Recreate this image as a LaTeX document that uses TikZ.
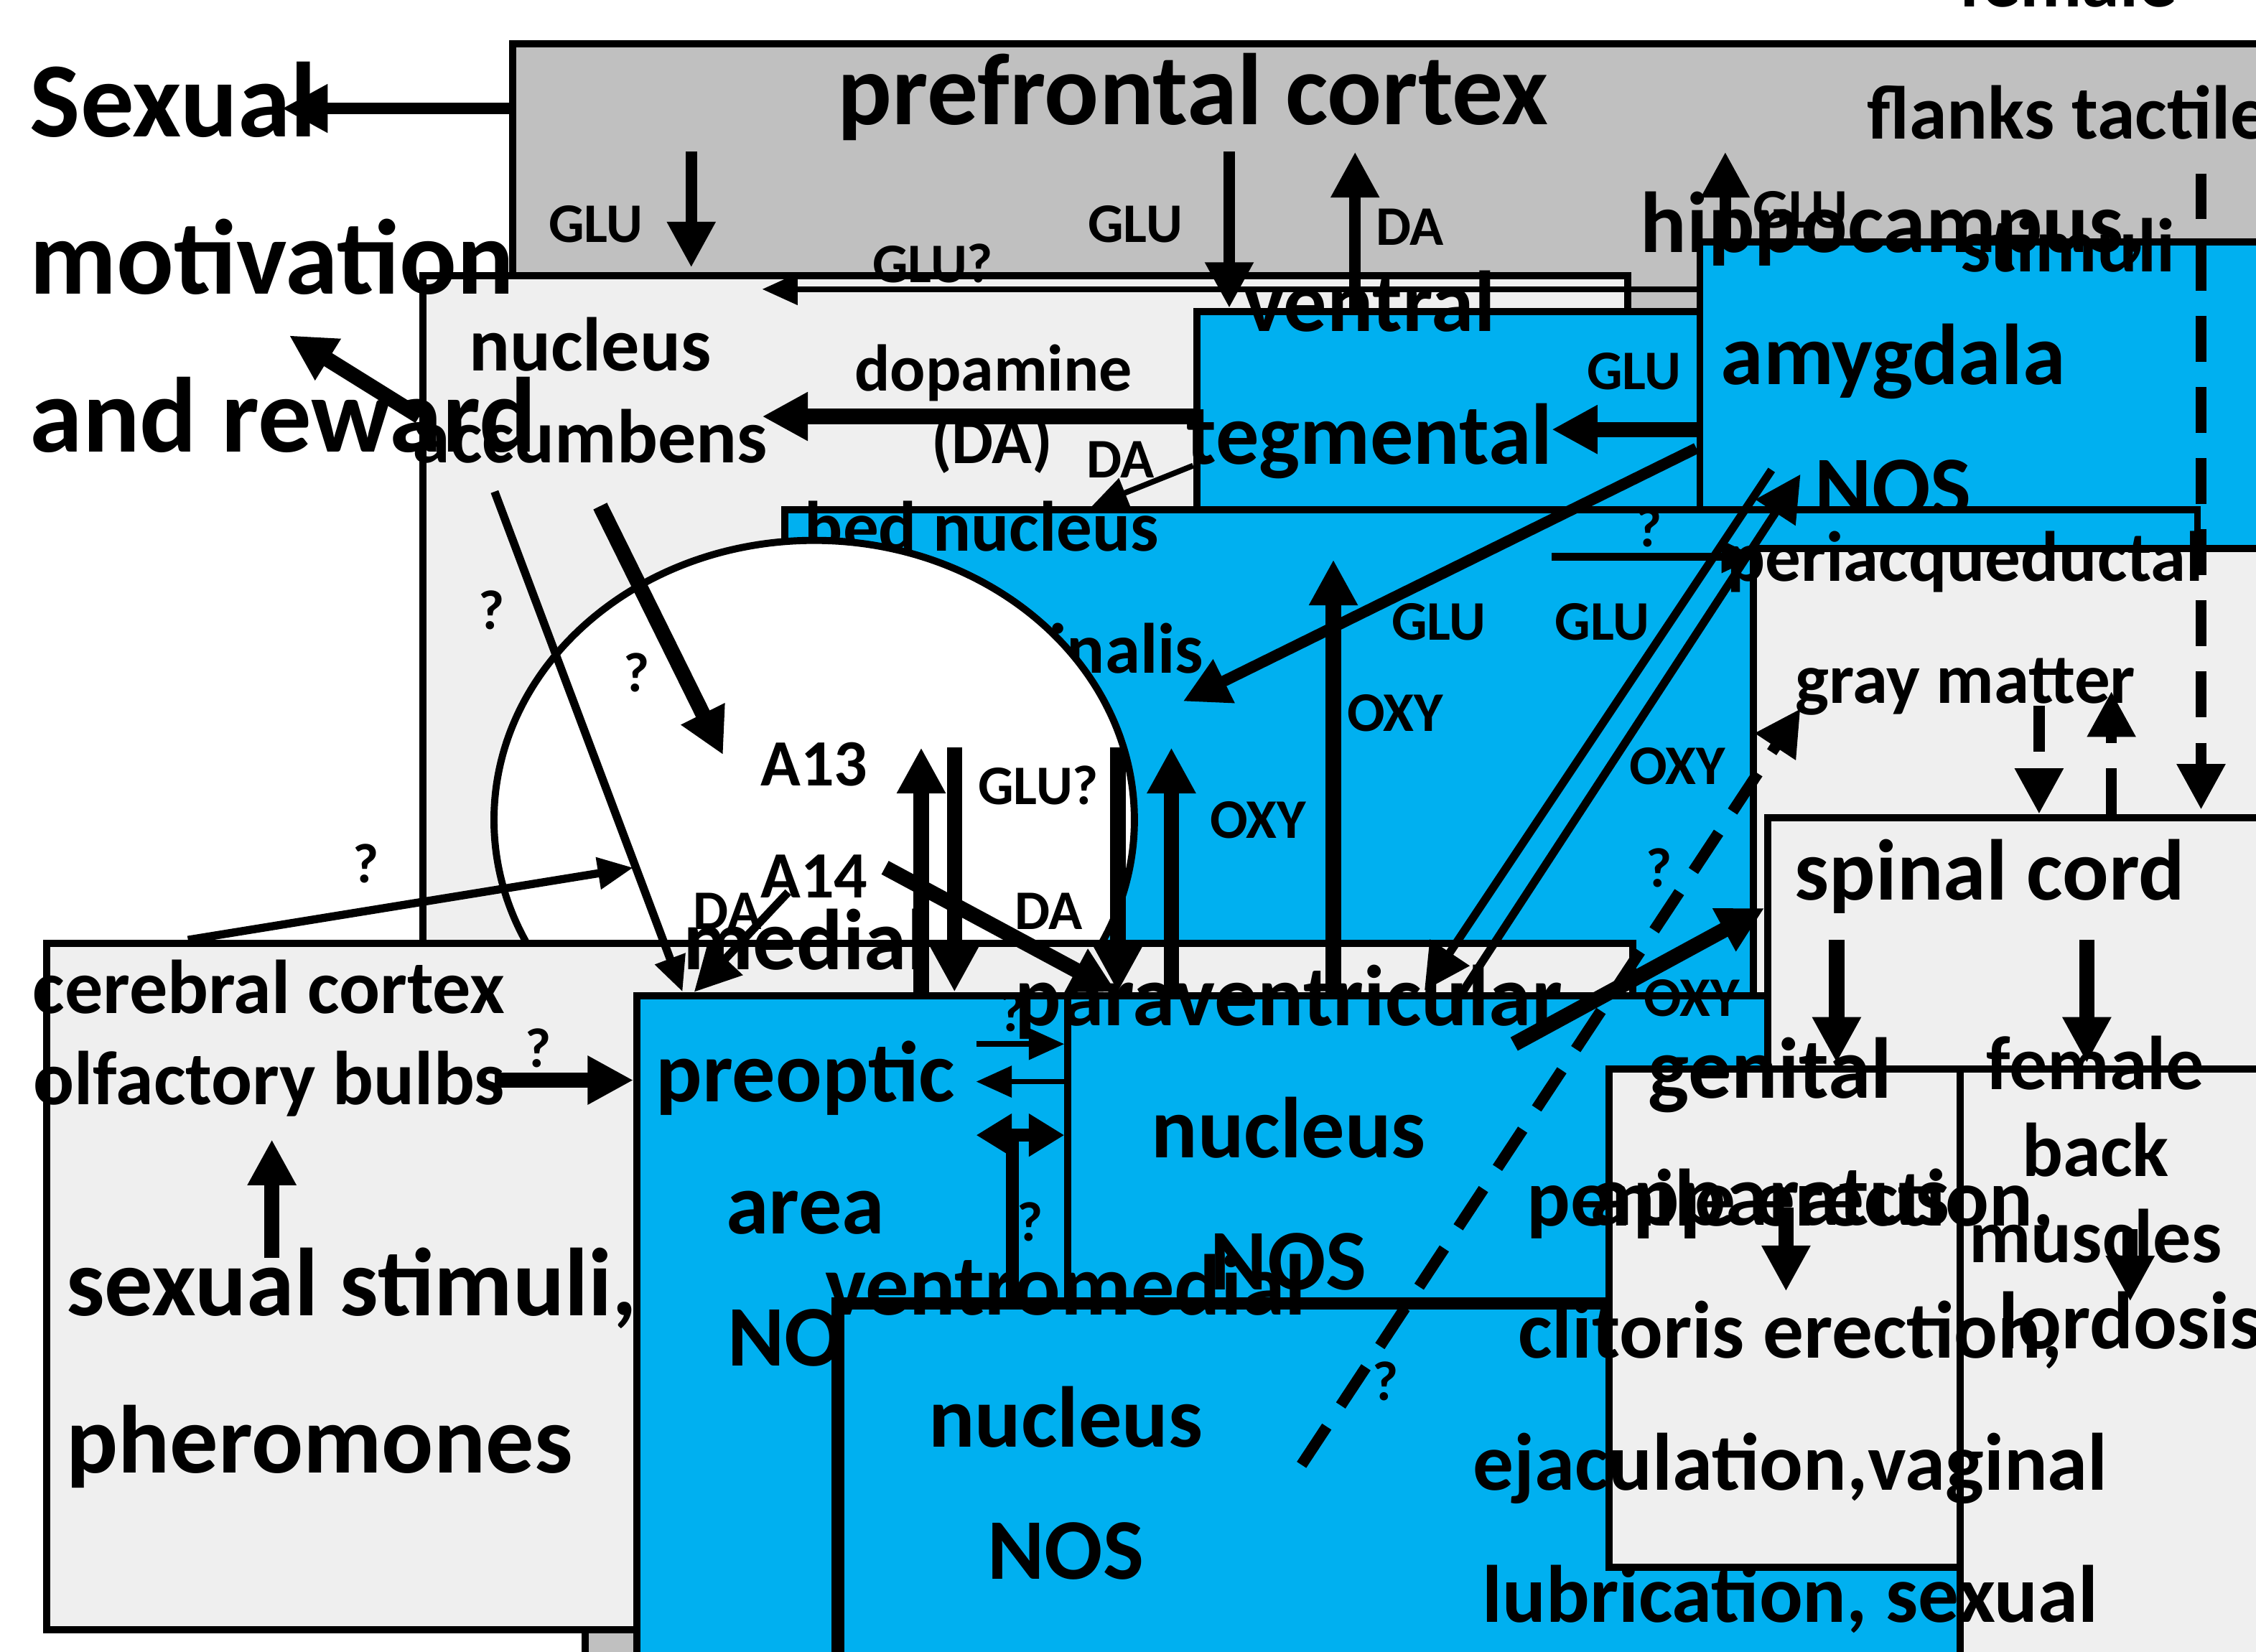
\documentclass[tikz,border=0pt]{standalone}
\usepackage{fontspec}
\setmainfont{Carlito}
\usetikzlibrary{arrows.meta,shapes.geometric}
\definecolor{nblue}{HTML}{00B0F0}
\definecolor{lgray}{HTML}{EFEFEF}
\definecolor{dgray}{HTML}{C0C0C0}
\begin{document}
\begin{tikzpicture}[x=0.1mm,y=-0.1mm,
  box/.style={draw=black,line width=1.4pt,align=center,inner sep=0pt,font=\fontsize{15}{17}\selectfont\bfseries},
  txt/.style={align=center,inner sep=0pt,font=\fontsize{15}{18}\selectfont\bfseries},
  lab/.style={inner sep=0pt,font=\fontsize{11}{13}\selectfont\bfseries},
  thk/.style={line width=2.2pt,-{Triangle[length=9pt,width=9pt]}},
  thn/.style={line width=1.1pt,-{Triangle[length=7pt,width=6pt]}},
  dsh/.style={line width=2.2pt,dash pattern=on 9pt off 5pt,-{Triangle[length=9pt,width=9pt]}}]
\useasboundingbox (0,0) rectangle (1560,1142);
% hypothalamus
\node[draw=black,line width=1.4pt,fill=dgray,minimum width=671,minimum height=623,anchor=north west,inner sep=0] (hyp) at (402,512) {};
\node[txt,font=\fontsize{30}{32}\selectfont\bfseries] (hyl) at (737,1093) {hypothalamus};
% boxes
\node[box,fill=dgray,minimum width=946,minimum height=77,anchor=north west] (pfc) at (352,28) {};
\node[txt,font=\fontsize{20}{22}\selectfont\bfseries] (pfct) at (825,67) {prefrontal cortex};
\node[box,fill=lgray,minimum width=237,minimum height=164,anchor=north west] (nac) at (290,188) {};
\node[txt] (nact) at (408,270) {nucleus\\accumbens};
\node[box,fill=nblue,minimum width=248,minimum height=174,anchor=north west] (vta) at (825,213) {};
\node[txt,font=\fontsize{17}{26}\selectfont\bfseries] (vtat) at (947,300) {ventral\\tegmental\\area - NOS};
\node[box,fill=nblue,minimum width=273,minimum height=160,anchor=north west] (hip) at (1173,165) {};
\node[txt,font=\fontsize{17}{26}\selectfont\bfseries] (hipt) at (1309,245) {hippocampus,\\amygdala\\NOS};
\node[box,fill=nblue,minimum width=278,minimum height=165,anchor=north west] (bst) at (540,350) {};
\node[txt,font=\fontsize{14}{24}\selectfont\bfseries] (bstt) at (679,406) {bed nucleus\\stria terminalis};
\node[txt,font=\fontsize{17}{19}\selectfont\bfseries] (bstn) at (679,481) {NOS};
\node[box,fill=lgray,minimum width=298,minimum height=111,anchor=north west] (pag) at (1210,377) {};
\node[txt,font=\fontsize{14}{24}\selectfont\bfseries] (pagt) at (1359,431) {periacqueductal\\gray matter};
\node[draw=black,line width=1.4pt,fill=white,ellipse,minimum width=126,minimum height=110,inner sep=0,align=center,font=\fontsize{13}{22}\selectfont\bfseries] (a13) at (563,567) {A13\\A14};
\node[box,fill=lgray,minimum width=312,minimum height=135,anchor=north west] (cc) at (30,650) {};
\node[txt] (cct) at (186,718) {cerebral cortex\\olfactory bulbs};
\node[box,fill=nblue,minimum width=237,minimum height=197,anchor=north west] (mpo) at (438,686) {};
\node[txt,font=\fontsize{17}{26}\selectfont\bfseries] (mpot) at (557,787) {medial\\preoptic\\area\\NOS};
\node[box,fill=nblue,minimum width=311,minimum height=187,anchor=north west] (pvn) at (736,686) {};
\node[txt,font=\fontsize{17}{26}\selectfont\bfseries] (pvnt) at (891,780) {paraventricular\\nucleus\\NOS};
\node[box,fill=nblue,minimum width=325,minimum height=161,anchor=north west,line width=2.5pt] (vmn) at (575,897) {};
\node[txt,font=\fontsize{17}{26}\selectfont\bfseries] (vmnt) at (737,980) {ventromedial\\nucleus\\NOS};
\node[box,fill=lgray,minimum width=313,minimum height=87,anchor=north west] (sc) at (1220,563) {};
\node[txt,font=\fontsize{17}{19}\selectfont\bfseries] (sct) at (1376,606) {spinal cord};
\node[box,fill=lgray,minimum width=236,minimum height=98,anchor=north west] (gen) at (1110,737) {};
\node[txt,font=\fontsize{17}{25}\selectfont\bfseries] (gent) at (1224,787) {genital\\apparatus};
\node[box,fill=lgray,minimum width=193,minimum height=121,anchor=north west] (bm) at (1353,737) {};
\node[txt,font=\fontsize{15}{17}\selectfont\bfseries] (bmt) at (1449,795) {female\\back\\muscles};
% free texts
\node[txt,font=\fontsize{21}{31}\selectfont\bfseries,align=left,anchor=north west] (sex) at (20,42) {Sexual\\motivation\\and reward};
\node[txt,font=\fontsize{15}{26}\selectfont\bfseries] (ffl) at (1430,78) {female\\flanks tactile\\stimuli};
\node[txt,font=\fontsize{19}{31}\selectfont\bfseries,align=left,anchor=north west] (ss) at (45,862) {sexual stimuli,\\pheromones};
\node[txt,font=\fontsize{16}{26}\selectfont\bfseries] (pen) at (1238,1015) {penile erection,\\clitoris erection,\\ejaculation,vaginal\\lubrication, sexual\\activity};
\node[txt,font=\fontsize{16}{19}\selectfont\bfseries] (lor) at (1473,913) {lordosis};
\coordinate (sexe) at (195,75);
\coordinate (sexe2) at (200,232);
% arrows
\draw[thk] (352,75) -- (sexe);
\draw[thk,line width=3pt] (290,288) -- (sexe2);
\draw[thk] (478,105) -- (478,185);
\draw[thk] (850,105) -- (850,213);
\draw[thk] (937,213) -- (937,105);
\draw[thk] (1193,165) -- (1193,105);
\draw[thn] (1173,200) -- (527,200);
\draw[thk,line width=3pt] (825,288) -- (527,288);
\draw[thn] (825,322) -- (755,350);
\draw[thk,line width=3pt] (1173,297) -- (1073,297);
\draw[thk] (1173,310) -- (818,485);
\draw[thn,line width=1.6pt] (1073,385) -- (1215,385);
\draw[thk,line width=1.6pt] (1225,325) -- (985,685);
\draw[thk,line width=1.6pt] (1010,688) -- (1245,328);
\draw[thk,line width=3pt] (922,686) -- (922,387);
\draw[thk,line width=3pt] (415,350) -- (500,522);
\draw[thn,line width=1.6pt] (342,340) -- (472,686);
\draw[thk,line width=1.6pt] (545,617) -- (480,686);
\draw[thk,line width=3pt] (612,600) -- (772,686);
\draw[thn,line width=1.6pt] (130,650) -- (438,600);
\draw[thk,line width=3pt] (342,747) -- (438,747);
\draw[thk,line width=3pt] (188,870) -- (188,788);
\draw[thk,line width=3pt] (637,686) -- (637,517);
\draw[thk,line width=3pt] (660,517) -- (660,686);
\draw[thk,line width=3pt] (773,517) -- (773,686);
\draw[thk,line width=3pt] (810,686) -- (810,517);
\draw[thn] (675,722) -- (736,722);
\draw[thn] (736,748) -- (675,748);
\draw[line width=2.5pt,{Triangle[length=7pt,width=8pt]}-{Triangle[length=7pt,width=8pt]}] (675,785) -- (736,785);
\draw[line width=2.5pt] (700,897) -- (700,785);
\draw[dsh] (900,1013) -- (1245,490);
\draw[thk,line width=3pt] (1047,722) -- (1220,628);
\draw[dsh] (1410,488) -- (1410,563);
\draw[dsh] (1460,563) -- (1460,478);
\draw[dsh] (1522,120) -- (1522,560);
\draw[thk,line width=3pt] (1270,650) -- (1270,735);
\draw[thk,line width=3pt] (1443,650) -- (1443,735);
\draw[thk,line width=3pt] (1235,835) -- (1235,893);
\draw[thk,line width=3pt] (1473,850) -- (1473,900);
% labels
\node[lab] (l1) at (412,155) {GLU};
\node[lab] (l2) at (785,155) {GLU};
\node[lab] (l3) at (975,157) {DA};
\node[lab] (l4) at (1245,145) {GLU};
\node[lab] (l5) at (645,182) {GLU?};
\node[lab,font=\fontsize{13}{15}\selectfont\bfseries] (l6) at (687,258) {dopamine};
\node[lab,font=\fontsize{13}{15}\selectfont\bfseries] (l7) at (686,307) {(DA)};
\node[lab] (l8) at (775,318) {DA};
\node[lab] (l9) at (1130,257) {GLU};
\node[lab] (l10) at (995,430) {GLU};
\node[lab] (l11) at (1108,430) {GLU};
\node[lab] (l12) at (1140,365) {?};
\node[lab] (l13) at (1160,530) {OXY};
\node[lab] (l14) at (965,493) {OXY};
\node[lab] (l15) at (440,465) {?};
\node[lab] (l16) at (340,422) {?};
\node[lab] (l17) at (503,630) {DA};
\node[lab] (l18) at (725,630) {DA};
\node[lab] (l19) at (253,597) {?};
\node[lab] (l20) at (372,725) {?};
\node[lab] (l21) at (718,543) {GLU?};
\node[lab] (l22) at (870,567) {OXY};
\node[lab] (l23) at (700,700) {?};
\node[lab] (l24) at (712,845) {?};
\node[lab] (l25) at (958,955) {?};
\node[lab] (l26) at (1147,600) {?};
\node[lab] (l27) at (1170,690) {OXY};
\end{tikzpicture}
\end{document}
